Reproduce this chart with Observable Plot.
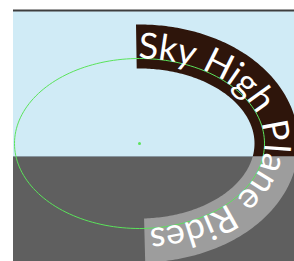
<!DOCTYPE html>
<html><head><meta charset="utf-8">
<script src="https://cdn.jsdelivr.net/npm/d3@7"></script>
<script src="https://cdn.jsdelivr.net/npm/@observablehq/plot@0.6"></script>
<style>html,body{margin:0;padding:0;background:#fff;} svg{display:block}</style>
</head><body><div id="chart"></div>
<script>
// ---- scene data (in picture units) ----
const labelText = ["Sky High Plane Rides"];
const frameX = [13, 294];
const frameY = [10, 261];
const horizonY = [156];
const ellipseCenter = [139, 143];
const ellipseRadii = [125, 85];
const bandOffsets = [-10, 34];   // inner / outer edge of the band relative to the path
const bandArc = [-3, 328];       // band start / end, arc length from the top of the ellipse
const textArc = [-1, 324];       // text start, text length along the path

// ---- styles ----
const skyColor = "#d0ebf6", groundColor = "#5f5f5f";
const bandSky = "#2e150b", bandGround = "#9d9d9d";
const pathColor = "#5be35b";
const fontFamily = "Lato";
const fontSize = 36;

// ---- geometry helpers ----
const [cx, cy] = ellipseCenter, [rx, ry] = ellipseRadii;
const rad = d => d * Math.PI / 180;
function pt(t, off) {
  const nx = ry * Math.cos(t), ny = rx * Math.sin(t), n = Math.hypot(nx, ny);
  return [cx + rx * Math.cos(t) + off * nx / n, cy + ry * Math.sin(t) + off * ny / n];
}
const table = [];
{
  const N = 4000, t0 = rad(-110), t1 = rad(110);
  let s = 0, prev = pt(t0, 0);
  for (let i = 0; i <= N; i++) {
    const t = t0 + (t1 - t0) * i / N, p = pt(t, 0);
    s += Math.hypot(p[0] - prev[0], p[1] - prev[1]);
    prev = p;
    table.push([t, s]);
  }
  const topS = table.reduce((a, b) => Math.abs(b[0] - rad(-90)) < Math.abs(a[0] - rad(-90)) ? b : a)[1];
  table.forEach(r => r[1] -= topS);
}
function tAt(s) {
  let lo = 0, hi = table.length - 1;
  while (hi - lo > 1) { const m = (lo + hi) >> 1; if (table[m][1] < s) lo = m; else hi = m; }
  const [ta, sa] = table[lo], [tb, sb] = table[hi];
  return ta + (tb - ta) * (s - sa) / (sb - sa);
}

// ---- band polygon, split at the horizon ----
const tb0 = tAt(bandArc[0]), tb1 = tAt(bandArc[1]);
const ts = d3.range(0, 201).map(i => tb0 + (tb1 - tb0) * i / 200);
const bandPoly = ts.map(t => pt(t, bandOffsets[1])).concat(ts.slice().reverse().map(t => pt(t, bandOffsets[0])));
function clipY(poly, keep, h) {
  const out = [];
  for (let i = 0; i < poly.length; i++) {
    const cur = poly[i], prev = poly[(i + poly.length - 1) % poly.length];
    const ci = keep(cur[1]), pi = keep(prev[1]);
    const cross = () => { const k = (h - prev[1]) / (cur[1] - prev[1]); return [prev[0] + k * (cur[0] - prev[0]), h]; };
    if (ci) { if (!pi) out.push(cross()); out.push(cur); }
    else if (pi) out.push(cross());
  }
  return out;
}
const bandTop = clipY(bandPoly, y => y <= horizonY[0], horizonY[0]);
const bandBottom = clipY(bandPoly, y => y >= horizonY[0], horizonY[0]);

// ---- ellipse outline ----
const ellipsePts = d3.range(0, 360, 2).map(d => pt(rad(d), 0));

// ---- characters along the path ----
const canvas = document.createElement("canvas").getContext("2d");
canvas.font = `${fontSize}px "${fontFamily}"`;
const chars = [...labelText[0]];
const wRaw = chars.map(c => canvas.measureText(c).width);
const k = textArc[1] / d3.sum(wRaw);
const glyphs = [];
{
  let acc = textArc[0];
  chars.forEach((c, i) => {
    const w = wRaw[i] * k;
    const t = tAt(acc + w / 2);
    const p = pt(t, 0);
    const ang = Math.atan2(ry * Math.cos(t), -rx * Math.sin(t)) * 180 / Math.PI;
    glyphs.push({c, x: p[0], y: p[1], r: ang});
    acc += w;
  });
}

const chart = Plot.plot({
  width: 294, height: 261, margin: 0,
  x: {domain: [0, 294], range: [0, 294], axis: null},
  y: {domain: [0, 261], range: [0, 261], axis: null},
  marks: [
    Plot.rect([{x1: frameX[0], x2: frameX[1], y1: frameY[0], y2: horizonY[0]}], {x1: "x1", x2: "x2", y1: "y1", y2: "y2", fill: skyColor, inset: 0}),
    Plot.rect([{x1: frameX[0], x2: frameX[1], y1: horizonY[0], y2: frameY[1]}], {x1: "x1", x2: "x2", y1: "y1", y2: "y2", fill: groundColor, inset: 0}),
    Plot.ruleY(horizonY, {x1: frameX[0], x2: frameX[1], stroke: "#8796a0", strokeWidth: 1}),
    Plot.ruleY([frameY[0]], {x1: frameX[0], x2: frameX[1], stroke: "#3e3e3e", strokeWidth: 2}),
    Plot.line(bandTop, {x: d => d[0], y: d => d[1], fill: bandSky, stroke: "none", curve: "linear-closed"}),
    Plot.line(bandBottom, {x: d => d[0], y: d => d[1], fill: bandGround, stroke: "none", curve: "linear-closed"}),
    Plot.line(ellipsePts, {x: d => d[0], y: d => d[1], stroke: pathColor, strokeWidth: 1, curve: "linear-closed"}),
    Plot.dot([ellipseCenter], {x: d => d[0], y: d => d[1], r: 1.5, fill: pathColor, stroke: "none"}),
    Plot.text(glyphs, {x: "x", y: "y", text: "c", rotate: "r", fontSize, fontFamily, fill: "white", textAnchor: "middle", lineAnchor: "bottom"})
  ]
});
document.getElementById("chart").appendChild(chart);
</script>
</body></html>
